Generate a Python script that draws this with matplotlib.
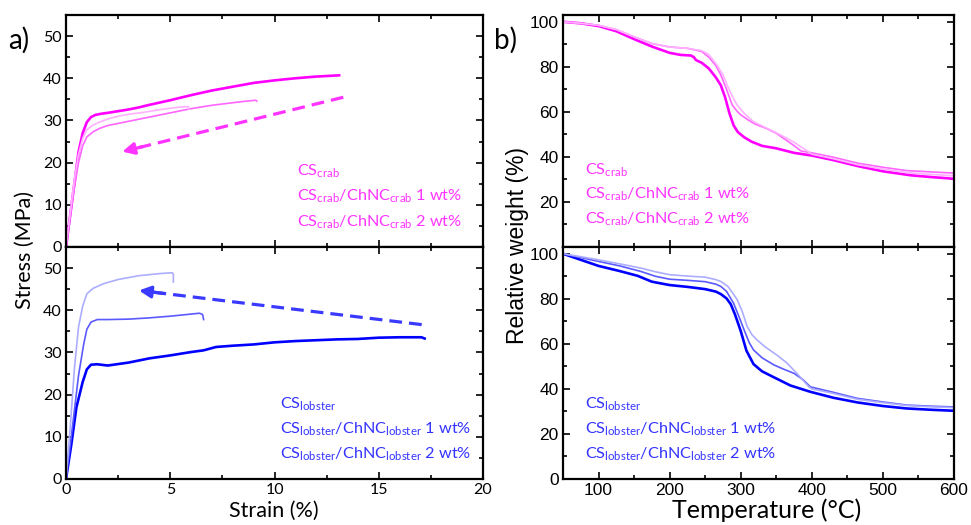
import numpy as np
import matplotlib
matplotlib.use('Agg')
from matplotlib import pyplot as plt
from matplotlib.ticker import MultipleLocator

plt.rcParams['font.family'] = ['Lato', 'DejaVu Sans']
plt.rcParams['mathtext.fontset'] = 'custom'
plt.rcParams['mathtext.rm'] = 'Lato'
plt.rcParams['mathtext.it'] = 'Lato:italic'
plt.rcParams['mathtext.bf'] = 'Lato:bold'

# ---- a) 拉伸曲线 (crab) ----
crab_cs_strain = [0, 0.2, 0.4, 0.6, 0.8, 1.0, 1.2, 1.4, 1.7, 2.0, 2.5, 3.0, 3.5, 4.0, 5.0, 6.0, 7.0, 8.0, 9.0, 10.0, 11.0, 12.0, 13.1]
crab_cs_stress = [0, 7.5, 15, 22.5, 27, 29.6, 30.8, 31.3, 31.6, 31.8, 32.2, 32.6, 33.1, 33.7, 34.8, 36.0, 37.1, 38.0, 38.9, 39.5, 40.0, 40.4, 40.7]
crab_1wt_strain = [0, 0.2, 0.4, 0.6, 0.8, 1.0, 1.3, 1.6, 2.0, 2.5, 3.0, 3.5, 4.0, 4.5, 5.0, 5.5, 6.0, 6.5, 7.0, 7.5, 8.0, 8.5, 9.1, 9.15]
crab_1wt_stress = [0, 7, 14, 20, 24, 26.1, 27.3, 28.1, 28.8, 29.3, 29.8, 30.3, 30.8, 31.3, 31.8, 32.3, 32.8, 33.2, 33.6, 33.9, 34.2, 34.5, 34.8, 34.6]
crab_2wt_strain = [0, 0.2, 0.4, 0.6, 0.8, 1.0, 1.3, 1.6, 2.1, 2.6, 3.2, 3.7, 4.3, 5.0, 5.5, 5.87, 5.9]
crab_2wt_stress = [0, 8, 16, 22, 25.8, 27.8, 28.9, 29.6, 30.5, 31.1, 31.6, 31.9, 32.4, 32.9, 33.2, 33.3, 32.7]

# ---- a) 拉伸曲线 (lobster) ----
lob_cs_strain = [0, 0.25, 0.5, 0.8, 1.0, 1.2, 1.5, 2.0, 3.0, 4.0, 5.0, 6.0, 6.6, 7.2, 8.0, 9.0, 10.0, 11.0, 12.0, 13.0, 14.0, 15.0, 16.0, 17.05, 17.2]
lob_cs_stress = [0, 8, 17, 23, 26, 27.1, 27.2, 26.9, 27.6, 28.6, 29.3, 30.1, 30.5, 31.3, 31.6, 31.9, 32.4, 32.7, 32.9, 33.1, 33.2, 33.5, 33.6, 33.6, 33.3]
lob_1wt_strain = [0, 0.3, 0.6, 0.85, 1.0, 1.2, 1.5, 2.0, 3.0, 4.0, 5.0, 6.0, 6.4, 6.55, 6.6]
lob_1wt_stress = [0, 12, 24.5, 32, 35.5, 37.2, 37.8, 37.8, 37.9, 38.2, 38.6, 39.1, 39.3, 39.0, 37.8]
lob_2wt_strain = [0, 0.2, 0.4, 0.6, 0.8, 1.0, 1.3, 1.8, 2.5, 3.5, 4.5, 5.1, 5.15, 5.15]
lob_2wt_stress = [0, 12, 26, 36, 41, 43.9, 45.2, 46.3, 47.3, 48.2, 48.7, 48.9, 48.5, 46.7]

# 箭头 (起点, 终点)
crab_arrow = [(13.3, 35.5), (2.7, 22.6)]
lob_arrow = [(17.06, 36.6), (3.5, 44.7)]

# ---- b) TGA (crab) ----
crab_cs_T = [50, 75, 100, 125, 150, 175, 200, 215, 230, 234, 237, 245, 255, 265, 272, 278, 284, 290, 296, 305, 315, 330, 350, 375, 400, 430, 465, 500, 540, 570, 600]
crab_cs_w = [100, 99.3, 98.1, 95.8, 92.3, 89.0, 86.2, 85.3, 85.0, 84.3, 83.0, 81.8, 79.3, 75.3, 71.8, 66.5, 59.5, 54.0, 51.0, 48.7, 46.8, 44.9, 43.8, 41.8, 40.6, 38.6, 35.9, 33.6, 31.8, 31.0, 30.3]
crab_1wt_T = [50, 75, 100, 125, 150, 175, 200, 225, 245, 255, 265, 272, 280, 288, 295, 300, 310, 320, 337, 350, 365, 375, 385, 400, 430, 465, 500, 534, 570, 600]
crab_1wt_w = [100, 99.3, 98.4, 96.5, 93.3, 90.3, 88.8, 88.2, 86.8, 84.3, 80.5, 76.4, 70.0, 63.1, 60.2, 58.7, 56.5, 54.6, 52.5, 50.5, 47.2, 45.0, 42.6, 41.8, 39.9, 37.2, 35.4, 33.9, 33.3, 32.8]
crab_2wt_T = [50, 75, 100, 125, 150, 175, 200, 225, 245, 255, 267, 275, 281, 288, 295, 305, 318, 333, 347, 358, 365, 375, 384, 392, 400, 430, 465, 500, 534, 570, 600]
crab_2wt_w = [100, 99.3, 98.4, 96.5, 93.3, 90.3, 88.8, 88.2, 87.2, 85.5, 80.6, 76.5, 71.8, 67.0, 63.0, 59.3, 55.6, 53.3, 51.2, 49.4, 48.2, 46.5, 44.6, 43.0, 41.2, 39.2, 36.5, 34.6, 33.0, 32.2, 31.6]

# ---- b) TGA (lobster) ----
lob_cs_T = [50, 75, 100, 130, 155, 175, 200, 225, 250, 265, 272, 280, 286, 292, 300, 308, 318, 330, 347, 370, 398, 430, 464, 500, 534, 570, 600]
lob_cs_w = [100, 97.3, 94.6, 92.3, 90.2, 87.6, 86.1, 85.3, 84.3, 83.2, 82.1, 80.2, 77.6, 73.0, 65.7, 57.0, 51.0, 47.8, 45.1, 41.5, 38.7, 36.1, 34.0, 32.4, 31.3, 30.7, 30.3]
lob_1wt_T = [50, 75, 100, 130, 160, 180, 200, 225, 250, 265, 272, 280, 290, 297, 305, 312, 318, 330, 347, 360, 375, 388, 398, 430, 464, 500, 534, 570, 600]
lob_1wt_w = [100, 98.3, 96.6, 94.6, 92.1, 90.0, 88.7, 88.2, 87.6, 86.5, 85.5, 83.3, 78.0, 72.5, 66.0, 60.5, 57.3, 53.8, 50.6, 48.8, 46.9, 44.0, 40.9, 38.5, 35.8, 34.2, 32.8, 32.3, 32.0]
lob_2wt_T = [50, 75, 100, 130, 160, 180, 200, 225, 250, 265, 272, 282, 290, 295, 302, 309, 316, 323, 335, 351, 365, 379, 390, 396, 400, 430, 464, 500, 534, 570, 600]
lob_2wt_w = [100, 98.7, 97.3, 95.5, 93.6, 92.0, 90.7, 90.1, 89.6, 88.5, 87.7, 85.5, 82.0, 79.6, 74.5, 67.7, 64.0, 61.7, 58.5, 55.0, 51.5, 46.9, 43.0, 40.9, 40.0, 38.0, 35.4, 33.9, 32.6, 32.0, 31.7]

crab_labels = [r'CS$_{\mathrm{crab}}$',
               r'CS$_{\mathrm{crab}}$/ChNC$_{\mathrm{crab}}$ 1 wt%',
               r'CS$_{\mathrm{crab}}$/ChNC$_{\mathrm{crab}}$ 2 wt%']
lob_labels = [r'CS$_{\mathrm{lobster}}$',
              r'CS$_{\mathrm{lobster}}$/ChNC$_{\mathrm{lobster}}$ 1 wt%',
              r'CS$_{\mathrm{lobster}}$/ChNC$_{\mathrm{lobster}}$ 2 wt%']

pink = ['#ff00ff', '#ff66ff', '#ffb0ff']
blue = ['#0000ff', '#5a5aff', '#adadff']
lws = [1.9, 1.2, 1.2]
pink_txt = '#ff33ff'
blue_txt = '#3333ff'

fig = plt.figure(figsize=(9.71, 5.25), dpi=100)
W, H = 971.0, 525.0


def ax_at(x0, y0, x1, y1):
    return fig.add_axes([x0 / W, 1 - y1 / H, (x1 - x0) / W, (y1 - y0) / H])


ax1 = ax_at(66, 15, 483, 247)
ax2 = ax_at(66, 247, 483, 479)
ax3 = ax_at(563, 15, 954, 247)
ax4 = ax_at(563, 247, 954, 479)


def style(ax, xmaj, xmin, ymaj, ymin, fs, fam):
    for s in ax.spines.values():
        s.set_linewidth(1.6)
    ax.xaxis.set_major_locator(MultipleLocator(xmaj))
    ax.xaxis.set_minor_locator(MultipleLocator(xmin))
    ax.yaxis.set_major_locator(MultipleLocator(ymaj))
    ax.yaxis.set_minor_locator(MultipleLocator(ymin))
    ax.tick_params(which='both', direction='in', top=True, right=True, width=1.2)
    ax.tick_params(which='major', length=5, labelsize=fs, pad=3, labelfontfamily=fam)
    ax.tick_params(which='minor', length=3)


# 拉伸
for sx, sy, c, lw in zip([crab_cs_strain, crab_1wt_strain, crab_2wt_strain],
                         [crab_cs_stress, crab_1wt_stress, crab_2wt_stress], pink, lws):
    ax1.plot(sx, sy, color=c, lw=lw)
for sx, sy, c, lw in zip([lob_cs_strain, lob_1wt_strain, lob_2wt_strain],
                         [lob_cs_stress, lob_1wt_stress, lob_2wt_stress], blue, lws):
    ax2.plot(sx, sy, color=c, lw=lw)

for ax in [ax1, ax2]:
    ax.set_xlim(0, 20)
    ax.set_ylim(0, 55)
    style(ax, 5, 2.5, 10, 5, 11.5, 'Lato')
ax1.tick_params(labelbottom=False)


def dash_arrow(ax, pts, color):
    (x0, y0), (x1, y1) = pts
    ax.plot([x0, x1 + (x0 - x1) * 0.04], [y0, y1 + (y0 - y1) * 0.04],
            color=color, lw=2.3, dashes=(4, 2.2), solid_capstyle='butt')
    ax.annotate('', xy=(x1, y1), xytext=(x1 + (x0 - x1) * 0.09, y1 + (y0 - y1) * 0.09),
                arrowprops=dict(arrowstyle='-|>,head_length=0.7,head_width=0.35',
                                color=color, lw=2.3, shrinkA=0, shrinkB=0))


dash_arrow(ax1, crab_arrow, '#ff33ff')
dash_arrow(ax2, lob_arrow, '#3a3aff')

# TGA
for tx, wy, c, lw in zip([crab_cs_T, crab_1wt_T, crab_2wt_T],
                         [crab_cs_w, crab_1wt_w, crab_2wt_w], pink, lws):
    ax3.plot(tx, wy, color=c, lw=lw)
for tx, wy, c, lw in zip([lob_cs_T, lob_1wt_T, lob_2wt_T],
                         [lob_cs_w, lob_1wt_w, lob_2wt_w], blue, lws):
    ax4.plot(tx, wy, color=c, lw=lw)

for ax in [ax3, ax4]:
    ax.set_xlim(50, 600)
    ax.set_ylim(0, 103)
    style(ax, 100, 50, 20, 10, 12.5, 'Liberation Sans')
ax3.tick_params(labelbottom=False)
ax3.set_yticks([20, 40, 60, 80, 100])

# 图例文字
leg_fs = 11.7
for lbl, yy in zip(crab_labels, [0.306, 0.198, 0.090]):
    ax1.text(0.554, yy, lbl, transform=ax1.transAxes, color=pink_txt, fontsize=leg_fs, va='baseline')
for lbl, yy in zip(lob_labels, [0.302, 0.194, 0.086]):
    ax2.text(0.513, yy, lbl, transform=ax2.transAxes, color=blue_txt, fontsize=leg_fs, va='baseline')
for lbl, yy in zip(crab_labels, [0.314, 0.207, 0.099]):
    ax3.text(0.057, yy, lbl, transform=ax3.transAxes, color=pink_txt, fontsize=leg_fs, va='baseline')
for lbl, yy in zip(lob_labels, [0.302, 0.194, 0.086]):
    ax4.text(0.057, yy, lbl, transform=ax4.transAxes, color=blue_txt, fontsize=leg_fs, va='baseline')

# 轴标题
fig.text(25 / W, 1 - 250 / H, 'Stress (MPa)', rotation=90, ha='center', va='center', fontsize=15.5)
fig.text(274 / W, 1 - 511 / H, 'Strain (%)', ha='center', va='center', fontsize=15.5)
fig.text(517 / W, 1 - 245 / H, 'Relative weight (%)', rotation=90, ha='center', va='center',
         fontsize=16.5, family='Liberation Sans')
fig.text(767 / W, 1 - 510 / H, 'Temperature (°C)', ha='center', va='center', fontsize=18)
fig.text(19 / W, 1 - 40 / H, 'a)', ha='center', va='center', fontsize=20)
fig.text(506 / W, 1 - 40 / H, 'b)', ha='center', va='center', fontsize=20)

plt.savefig('out.png', dpi=100)
